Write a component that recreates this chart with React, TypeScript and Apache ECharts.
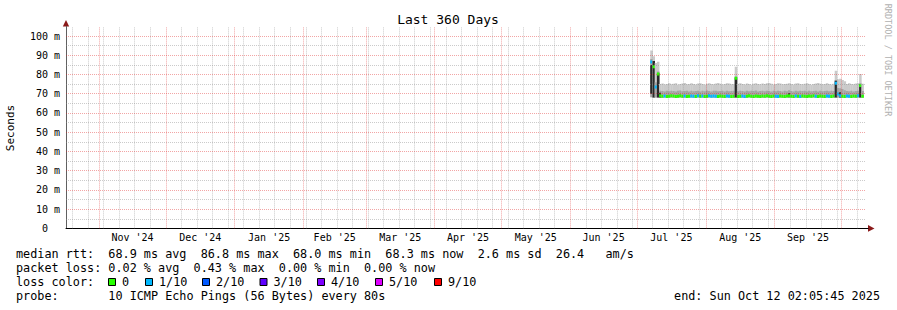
import React, { useEffect, useRef } from 'react';
import * as echarts from 'echarts';

const DAY = 86400000;
const FONT = "'DejaVu Sans Mono', monospace";

// time frame
const endStamp = '2025-10-12T02:05:45Z';
const spanDays = 360;
const firstDataDay = '2025-07-07';

// x grid
const monthStarts = ['2024-11-01', '2024-12-01', '2025-01-01', '2025-02-01', '2025-03-01', '2025-04-01', '2025-05-01', '2025-06-01', '2025-07-01', '2025-08-01', '2025-09-01', '2025-10-01'];
const monthLabels = ["Nov '24", "Dec '24", "Jan '25", "Feb '25", "Mar '25", "Apr '25", "May '25", "Jun '25", "Jul '25", "Aug '25", "Sep '25"];
const minorXDates = [
  '2024-10-20', '2024-10-27', '2024-11-03', '2024-11-10', '2024-11-17', '2024-11-24',
  '2024-12-08', '2024-12-15', '2024-12-22', '2024-12-29',
  '2025-01-05', '2025-01-12', '2025-01-19', '2025-01-26',
  '2025-02-02', '2025-02-09', '2025-02-16', '2025-02-23',
  '2025-03-02', '2025-03-09', '2025-03-16', '2025-03-23', '2025-03-30',
  '2025-04-06', '2025-04-13', '2025-04-20', '2025-04-27',
  '2025-05-04', '2025-05-11', '2025-05-18', '2025-05-25',
  '2025-06-08', '2025-06-15', '2025-06-22', '2025-06-29',
  '2025-07-08', '2025-07-15', '2025-07-22', '2025-07-29',
  '2025-08-08', '2025-08-15', '2025-08-22', '2025-08-29',
  '2025-09-08', '2025-09-15', '2025-09-22', '2025-09-29',
  '2025-10-08',
];

// y grid (ms)
const majorY = [10, 20, 30, 40, 50, 60, 70, 80, 90, 100];
const minorY = [5, 15, 25, 35, 45, 55, 65, 75, 85, 95];

// daily data from 2025-07-07 (ms)
const minRtt = [
  68.2, 68.0, 68.1, 68.0, 68.0, 68.1, 68.0, 68.0, 68.1, 68.0,
  68.0, 68.1, 68.0, 68.0, 68.1, 68.0, 68.0, 68.1, 68.0, 68.0,
  68.1, 68.0, 68.0, 68.1, 68.0, 68.0, 68.1, 68.0, 68.0, 68.1,
  68.0, 68.0, 68.1, 68.0, 68.0, 68.1, 68.0, 68.0, 68.1, 68.0,
  68.0, 68.1, 68.0, 68.0, 68.1, 68.0, 68.0, 68.1, 68.0, 68.0,
  68.1, 68.0, 68.0, 68.1, 68.0, 68.0, 68.1, 68.0, 68.0, 68.1,
  68.0, 68.0, 68.1, 68.0, 68.0, 68.1, 68.0, 68.0, 68.1, 68.0,
  68.0, 68.1, 68.0, 68.0, 68.1, 68.0, 68.0, 68.1, 68.0, 68.0,
  68.1, 68.0, 68.0, 68.1, 68.0, 68.0, 68.1, 68.0, 68.0, 68.1,
  68.0, 68.0, 68.1, 68.0, 68.0, 68.1,
];
const midRtt = [
  88.0, 87.0, 76.0, 81.5, 71.6, 71.4, 71.2, 71.5, 71.3, 71.6,
  71.4, 71.2, 71.5, 71.7, 71.3, 71.4, 71.6, 71.2, 71.5, 71.3,
  71.4, 71.6, 71.2, 71.5, 71.3, 71.7, 71.4, 71.2, 71.5, 71.6,
  71.3, 71.4, 71.6, 71.2, 71.5, 71.3, 71.4, 71.6, 79.0, 71.3,
  71.5, 71.4, 71.2, 71.6, 71.3, 71.5, 71.4, 71.7, 71.2, 71.4,
  71.6, 71.3, 71.5, 71.4, 71.2, 71.6, 71.3, 71.5, 71.4, 71.2,
  71.5, 71.3, 71.8, 71.4, 71.2, 71.6, 71.3, 71.5, 71.4, 71.6,
  71.2, 71.5, 71.3, 71.4, 71.6, 71.2, 71.5, 71.3, 71.4, 71.6,
  71.3, 71.5, 71.4, 77.0, 73.0, 72.8, 72.4, 71.8, 71.4, 71.3,
  71.5, 71.2, 71.4, 71.6, 75.5, 71.4,
];
const maxRtt = [
  92.5, 89.5, 86.0, 86.6, 75.0, 75.3, 74.8, 75.1, 75.4, 74.9,
  75.2, 75.5, 74.7, 75.0, 75.3, 75.6, 74.9, 75.1, 75.4, 75.0,
  74.8, 75.3, 75.5, 75.1, 74.7, 75.2, 75.4, 75.0, 74.9, 75.3,
  75.6, 75.2, 74.8, 75.1, 75.5, 75.3, 74.9, 75.0, 84.0, 75.2,
  75.4, 75.1, 74.8, 75.3, 75.0, 74.7, 75.2, 75.5, 75.1, 74.9,
  75.3, 75.0, 75.4, 75.6, 75.2, 74.8, 75.1, 75.5, 75.3, 74.9,
  75.0, 75.2, 75.5, 75.1, 74.8, 75.3, 75.4, 75.0, 74.9, 75.2,
  75.5, 75.1, 74.7, 75.0, 75.3, 75.6, 75.2, 74.9, 75.1, 75.4,
  75.0, 74.8, 75.2, 82.0, 77.5, 77.8, 77.2, 76.5, 75.0, 75.4,
  75.1, 74.9, 75.3, 75.5, 80.2, 75.2,
];
const medianRtt = [
  86.5, 84.0, 73.5, 80.3, 68.9, 68.7, 68.8, 68.6, 68.7, 69.0,
  68.8, 68.6, 68.7, 68.9, 68.7, 68.8, 68.6, 68.7, 68.8, 68.7,
  68.6, 68.9, 68.7, 68.8, 68.6, 68.7, 68.9, 68.7, 68.8, 68.7,
  68.6, 68.8, 68.7, 68.6, 68.8, 68.7, 68.6, 68.7, 78.0, 68.5,
  68.7, 68.8, 68.6, 68.7, 68.9, 68.7, 68.6, 68.8, 68.7, 68.6,
  68.8, 68.7, 68.9, 68.7, 68.6, 68.8, 68.7, 68.6, 68.8, 68.7,
  68.6, 68.8, 69.0, 68.7, 68.6, 68.8, 68.7, 68.6, 68.8, 68.7,
  68.6, 68.8, 68.7, 68.9, 68.7, 68.6, 68.8, 68.7, 68.6, 68.8,
  68.7, 68.6, 68.8, 75.5, 69.8, 68.9, 68.7, 68.6, 68.8, 68.7,
  68.6, 68.8, 68.7, 68.9, 74.3, 68.7,
];
// index into lossColors (0 = no loss, 1 = 1/10)
const lossIdx = [
  1, 0, 1, 0, 0, 0, 1, 0, 0, 0,
  0, 0, 0, 0, 0, 1, 0, 0, 1, 1,
  0, 1, 0, 1, 0, 0, 1, 1, 1, 1,
  0, 0, 0, 0, 1, 1, 0, 0, 0, 0,
  0, 1, 1, 0, 0, 0, 0, 0, 0, 0,
  0, 0, 0, 0, 0, 0, 1, 1, 0, 0,
  0, 0, 0, 0, 0, 1, 0, 1, 0, 0,
  0, 0, 0, 0, 1, 0, 0, 0, 0, 1,
  1, 0, 0, 1, 1, 1, 0, 0, 1, 1,
  0, 0, 0, 1, 0, 0,
];
// dense (dark) smoke on spike days
const spikeDays = [0, 1, 3, 4, 38, 62, 83, 85, 94];
const spikeLow = [70.0, 68.0, 68.0, 68.0, 68.0, 68.2, 68.0, 68.0, 68.0];
const spikeHigh = [85.0, 87.0, 80.6, 70.5, 78.5, 70.2, 76.8, 70.8, 74.8];

const lossColors = ['#26ff00', '#00b8ff', '#0059ff', '#5e00ff', '#7e00ff', '#dd00ff', '#ff0000'];
const lossLabels = ['0', '1/10', '2/10', '3/10', '4/10', '5/10', '9/10'];

const legendRtt = 'median rtt:  68.9 ms avg  86.8 ms max  68.0 ms min  68.3 ms now  2.6 ms sd  26.4   am/s';
const legendLoss = 'packet loss: 0.02 % avg  0.43 % max  0.00 % min  0.00 % now';
const legendColorTitle = 'loss color:';
const legendProbe = 'probe:       10 ICMP Echo Pings (56 Bytes) every 80s';
const legendEnd = 'end: Sun Oct 12 02:05:45 2025';
const titleText = 'Last 360 Days';
const yName = 'Seconds';
const watermark = 'RRDTOOL / TOBI OETIKER';

// layout
const legendBoxX = [108.5, 145.5, 202.5, 260, 317.5, 375.5, 434.5];

const ms = (d: string) => Date.parse(d + 'T00:00:00Z');

export default function App() {
  const ref = useRef<HTMLDivElement>(null);
  useEffect(() => {
    const chart = echarts.init(ref.current!, null, { renderer: 'svg' });
    const endTime = Date.parse(endStamp);
    const startTime = endTime - spanDays * DAY;
    const t0 = ms(firstDataDay);
    const monthMs = monthStarts.map(ms);
    const labelPos = monthLabels.map((_, i) => (monthMs[i] + monthMs[i + 1]) / 2);

    const data = medianRtt.map((m, i) => {
      const k = spikeDays.indexOf(i);
      return [t0 + i * DAY, minRtt[i], midRtt[i], maxRtt[i], k >= 0 ? spikeLow[k] : null, k >= 0 ? spikeHigh[k] : null, m, lossIdx[i]];
    });

    const minorColor = 'rgba(140,140,140,0.45)';
    const majorColor = 'rgba(225,40,40,0.42)';
    const gridSeries = (color: string, xs: number[], ys: number[]) => ({
      type: 'line',
      data: [[startTime, 0]],
      symbol: 'none',
      lineStyle: { opacity: 0 },
      silent: true,
      z: 10,
      markLine: {
        silent: true,
        symbol: ['none', 'none'],
        label: { show: false },
        emphasis: { disabled: true },
        lineStyle: { type: [1, 1], width: 1, color },
        data: [...xs.map((x) => ({ xAxis: x })), ...ys.map((y) => ({ yAxis: y }))],
      },
    });

    const txt = (text: string, x: number, y: number, extra: any = {}) => ({
      type: 'text',
      x,
      y,
      silent: true,
      ...extra,
      style: { text, fontFamily: FONT, fontSize: 11.8, fill: '#000', align: 'left', verticalAlign: 'middle', ...(extra.style || {}) },
    });

    const graphic: any[] = [
      txt(titleText, 448, 19, { style: { fontSize: 13, align: 'center' } }),
      txt(yName, 10, 128, { rotation: Math.PI / 2, style: { fontSize: 11, align: 'center' } }),
      txt(watermark, 888, 60, { rotation: -Math.PI / 2, style: { fontSize: 8.5, align: 'center', fill: '#b0b0b0' } }),
      txt(legendRtt, 16, 254),
      txt(legendLoss, 16, 268),
      txt(legendColorTitle, 16, 282),
      txt(legendProbe, 16, 296),
      txt(legendEnd, 880, 296, { style: { align: 'right' } }),
      { type: 'polygon', silent: true, shape: { points: [[868, 225], [874.5, 228.4], [868, 231.8]] }, style: { fill: '#8b1a1a' } },
      { type: 'polygon', silent: true, shape: { points: [[62.8, 26.5], [66, 20], [69.2, 26.5]] }, style: { fill: '#8b1a1a' } },
      { type: 'line', silent: true, shape: { x1: 866, y1: 228.5, x2: 868.5, y2: 228.5 }, style: { stroke: '#000', lineWidth: 1 } },
    ];
    lossLabels.forEach((lab, i) => {
      graphic.push({ type: 'rect', silent: true, shape: { x: legendBoxX[i], y: 278.5, width: 7, height: 7 }, style: { fill: lossColors[i], stroke: '#000', lineWidth: 1 } });
      graphic.push(txt(lab, legendBoxX[i] + 13.5, 282));
    });

    chart.setOption({
      animation: false,
      backgroundColor: '#ffffff',
      grid: { left: 66, right: 31, top: 26.4, bottom: 81.6, containLabel: false },
      xAxis: {
        type: 'value',
        min: startTime,
        max: endTime,
        splitLine: { show: false },
        axisTick: { show: false },
        axisLine: { show: true, onZero: false, lineStyle: { color: '#000', width: 1 } },
        axisLabel: {
          customValues: labelPos,
          formatter: (v: number) => {
            const i = labelPos.indexOf(v);
            return i >= 0 ? monthLabels[i] : '';
          },
          fontFamily: FONT,
          fontSize: 10,
          color: '#000',
          margin: 4,
        },
      },
      yAxis: {
        type: 'value',
        min: 0,
        max: 105,
        interval: 5,
        splitLine: { show: false },
        axisTick: { show: false },
        axisLine: { show: true, lineStyle: { color: '#606060', width: 1 } },
        axisLabel: {
          formatter: (v: number) => (v === 0 ? '0\u00a0\u00a0' : v % 10 === 0 && v <= 100 ? v + ' m' : ''),
          fontFamily: FONT,
          fontSize: 10,
          color: '#000',
          margin: 6,
        },
      },
      graphic,
      series: [
        {
          type: 'custom',
          z: 2,
          clip: true,
          silent: true,
          data,
          renderItem: (params: any, api: any) => {
            const t = api.value(0);
            const xa = api.coord([t, 0])[0];
            const xb = api.coord([t + DAY, 0])[0];
            const w = xb - xa + 0.3;
            const y = (v: number) => api.coord([t, v])[1];
            const lo = y(api.value(1));
            const mid = y(api.value(2));
            const hi = y(api.value(3));
            const children: any[] = [
              { type: 'rect', shape: { x: xa, y: hi, width: w, height: lo - hi }, style: { fill: '#cacaca' } },
              { type: 'rect', shape: { x: xa, y: mid, width: w, height: lo - mid }, style: { fill: '#a4a4a4' } },
            ];
            const dl = api.value(4);
            const dh = api.value(5);
            if (!isNaN(dl) && !isNaN(dh)) {
              children.push({ type: 'rect', shape: { x: xa, y: y(dh), width: w, height: y(dl) - y(dh) }, style: { fill: '#2a2a2a' } });
            }
            const ym = y(api.value(6));
            children.push({ type: 'rect', shape: { x: xa, y: ym - 1.5, width: w, height: 3 }, style: { fill: lossColors[api.value(7)] } });
            return { type: 'group', children };
          },
        },
        gridSeries(minorColor, minorXDates.map(ms), minorY),
        gridSeries(majorColor, monthMs, majorY),
      ],
    } as any);
    return () => chart.dispose();
  }, []);
  return <div ref={ref} style={{ width: 897, height: 310, position: 'absolute', left: 0, top: 0 }} />;
}
